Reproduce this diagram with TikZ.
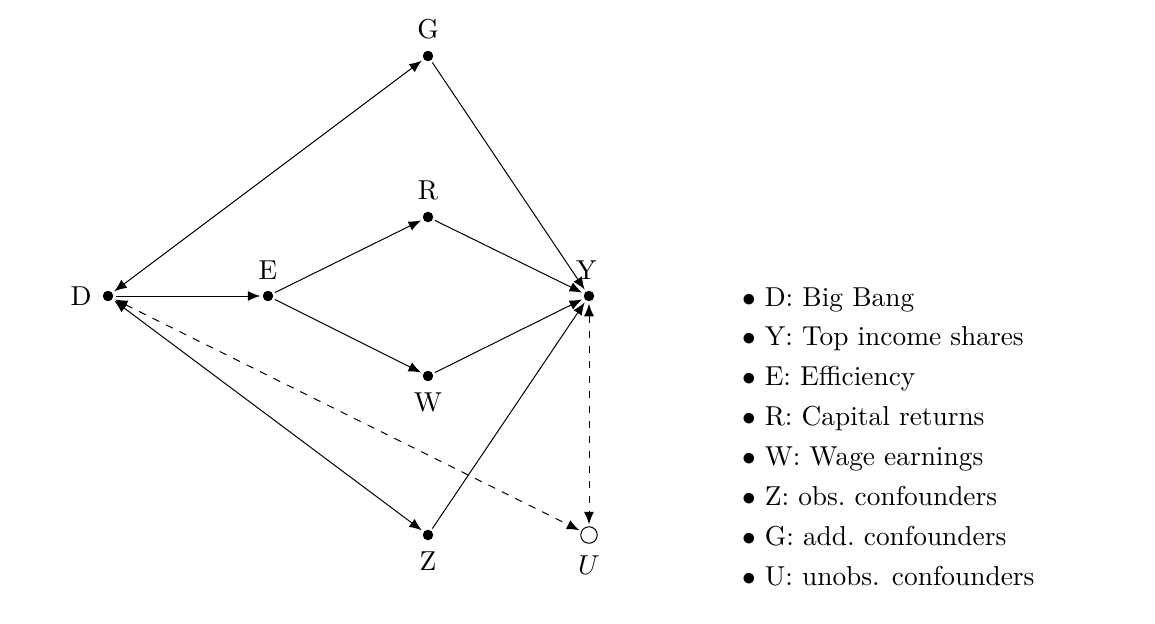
\documentclass[tikz,border=0pt]{standalone}
\usetikzlibrary{arrows.meta}
\begin{document}
\begin{tikzpicture}[x=1pt,y=1pt,
  font=\fontsize{10.95}{13.6}\selectfont,
  dot/.style={circle,fill=black,inner sep=0pt,minimum size=4.2pt,outer sep=1pt},
  odot/.style={circle,draw=black,fill=white,inner sep=0pt,minimum size=6.6pt,outer sep=1pt},
  arr/.style={-{Latex[length=5pt,width=4pt]},line width=0.4pt},
  barr/.style={{Latex[length=5pt,width=4pt]}-{Latex[length=5pt,width=4pt]},line width=0.4pt},
  legend/.style={anchor=base west,inner sep=0pt}]
\useasboundingbox (0,0) rectangle (462,249.2);
\node[dot,label=left:D] (D) at (43.2,130.8) {};
\node[dot,label=above:E] (E) at (107.2,130.8) {};
\node[dot,label=above:G] (G) at (171.2,226.8) {};
\node[dot,label=above:R] (R) at (171.2,162.4) {};
\node[dot,label=below:W] (W) at (171.2,98.8) {};
\node[dot,label={[xshift=-1pt]above:Y}] (Y) at (235.6,130.8) {};
\node[dot,label=below:Z] (Z) at (171.2,35.2) {};
\node[odot,label={[label distance=0.5pt]below:$U$}] (U) at (235.6,35.2) {};
\draw[barr] (D) -- (G);
\draw[arr] (D) -- (E);
\draw[arr] (E) -- (R);
\draw[arr] (E) -- (W);
\draw[arr] (R) -- (Y);
\draw[arr] (W) -- (Y);
\draw[arr] (G) -- (Y);
\draw[arr] (Z) -- (Y);
\draw[barr] (D) -- (Z);
\draw[barr,dashed] (D) -- (U);
\draw[barr,dashed] (Y) -- (U);
\node[legend] (l1) at (296.6,126.8) {$\bullet$ D: Big Bang};
\node[legend] (l2) at (296.6,110.86) {$\bullet$ Y: Top income shares};
\node[legend] (l3) at (296.6,94.92) {$\bullet$ E: Efficiency};
\node[legend] (l4) at (296.6,78.98) {$\bullet$ R: Capital returns};
\node[legend] (l5) at (296.6,63.04) {$\bullet$ W: Wage earnings};
\node[legend] (l6) at (296.6,47.1) {$\bullet$ Z: obs.\ confounders};
\node[legend] (l7) at (296.6,31.16) {$\bullet$ G: add.\ confounders};
\node[legend] (l8) at (296.6,15.2) {$\bullet$ U: unobs. confounders};
\end{tikzpicture}
\end{document}
